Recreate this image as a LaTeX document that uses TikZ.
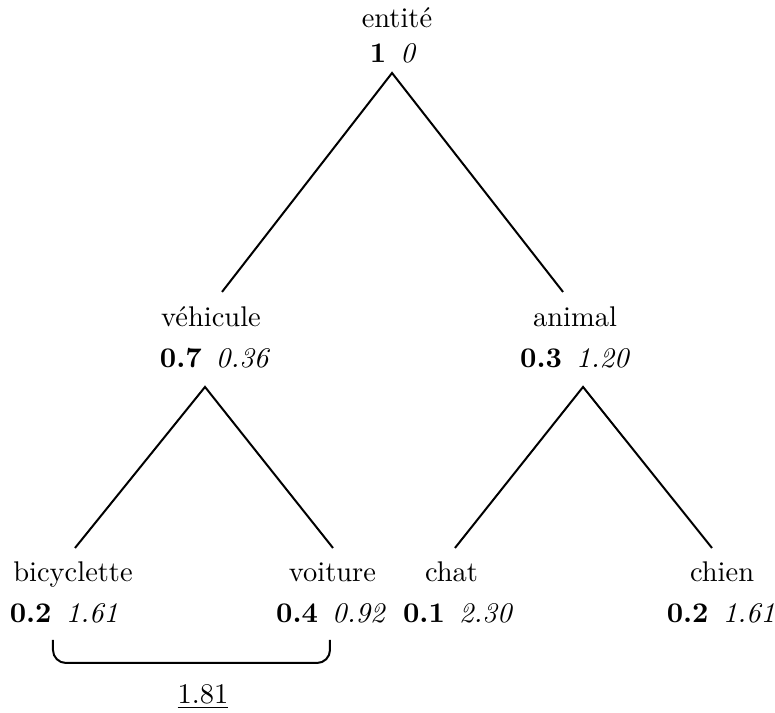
\documentclass[tikz,border=0pt]{standalone}
\usepackage{tikz}
\usetikzlibrary{positioning}
\newcommand{\wts}[2]{\textbf{#1}\hspace{0.5em}\textit{#2}}
\tikzset{
  concept/.style = {anchor=base, inner sep=2pt},
  score/.style   = {anchor=base, inner sep=2pt},
  branch/.style  = {draw=black, line width=0.7pt},
  brace/.style   = {draw=black, line width=0.7pt, rounded corners=1.6mm},
}
\begin{document}
\begin{tikzpicture}
  \useasboundingbox (0,0) rectangle (9.568,8.802);
  % concepts and their scores
  \node[concept] (n-root)  at (4.901,8.457) {entité};
  \node[score]   (s-root)  at (4.852,8.035) {\wts{1}{0}};
  \node[concept] (n-veh)   at (2.605,4.765) {véhicule};
  \node[score]   (s-veh)   at (2.654,4.259) {\wts{0.7}{0.36}};
  \node[concept] (n-ani)   at (7.099,4.765) {animal};
  \node[score]   (s-ani)   at (7.099,4.259) {\wts{0.3}{1.20}};
  \node[concept] (n-bic)   at (0.901,1.617) {bicyclette};
  \node[score]   (s-bic)   at (0.790,1.123) {\wts{0.2}{1.61}};
  \node[concept] (n-voi)   at (4.105,1.617) {voiture};
  \node[score]   (s-voi)   at (4.086,1.123) {\wts{0.4}{0.92}};
  \node[concept] (n-chat)  at (5.574,1.617) {chat};
  \node[score]   (s-chat)  at (5.654,1.123) {\wts{0.1}{2.30}};
  \node[concept] (n-chien) at (8.914,1.617) {chien};
  \node[score]   (s-chien) at (8.901,1.123) {\wts{0.2}{1.61}};
  % branch points
  \coordinate (t-root) at (4.840,7.901);
  \coordinate (e-veh)  at (2.741,5.198);
  \coordinate (e-ani)  at (6.951,5.198);
  \coordinate (t-veh)  at (2.531,4.025);
  \coordinate (e-bic)  at (0.926,2.037);
  \coordinate (e-voi)  at (4.111,2.037);
  \coordinate (t-ani)  at (7.198,4.025);
  \coordinate (e-chat) at (5.617,2.037);
  \coordinate (e-chien) at (8.790,2.037);
  \draw[branch] (e-veh) -- (t-root) -- (e-ani);
  \draw[branch] (e-bic) -- (t-veh) -- (e-voi);
  \draw[branch] (e-chat) -- (t-ani) -- (e-chien);
  % distance bracket
  \coordinate (br-l) at (0.654,0.901);
  \coordinate (br-r) at (4.074,0.901);
  \draw[brace] (br-l) |- (2.4,0.617) -| (br-r);
  \node[anchor=base, inner sep=2pt] (dist) at (2.506,0.123) {\underline{1.81}};
\end{tikzpicture}
\end{document}
